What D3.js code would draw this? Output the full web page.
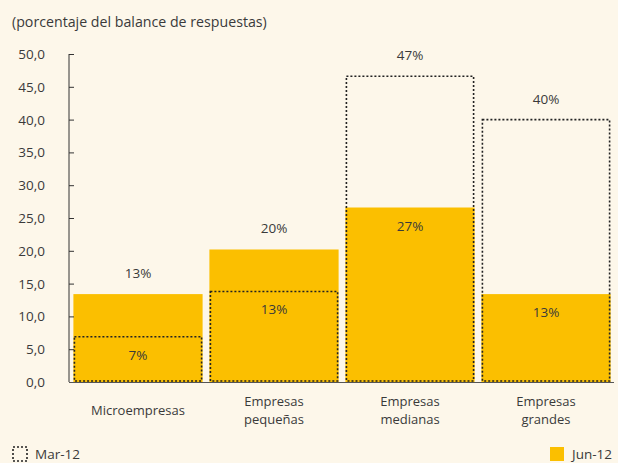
<!DOCTYPE html>
<html><head><meta charset="utf-8">
<script src="https://cdn.jsdelivr.net/npm/d3@7"></script>
<style>body{margin:0;background:#fdf7ea;}svg{display:block;font-family:"Open Sans","Noto Sans",sans-serif;}</style>
</head><body><svg id="c" width="618" height="463"></svg>
<script>
const categories = [["Microempresas"],["Empresas","pequeñas"],["Empresas","medianas"],["Empresas","grandes"]];
const jun12 = [13.4, 20.2, 26.6, 13.4];
const mar12 = [6.9, 13.8, 46.6, 40.0];
const junLabels = ["13%","20%","27%","13%"];
const marLabels = ["7%","13%","47%","40%"];
const junLabelInside = [false,false,true,true];
const marLabelInside = [true,true,false,false];
const yTicks = [0,5,10,15,20,25,30,35,40,45,50];

const FS = 13.5, TXT = "#3a3a3a";
const svg = d3.select("#c");
svg.append("rect").attr("width",618).attr("height",463).attr("fill","#fdf7ea");
const x = d3.scaleBand().domain(d3.range(4)).range([70,614]).paddingInner(0.05).paddingOuter(0.025);
const y = d3.scaleLinear().domain([0,50]).range([382,54]);
const fmt = d => d.toFixed(1).replace(".",",");

svg.append("text").attr("x",12).attr("y",27).attr("font-size",14.2).attr("fill",TXT)
  .text("(porcentaje del balance de respuestas)");

// bars
svg.selectAll(".jun").data(jun12).join("rect")
  .attr("x",(d,i)=>x(i)).attr("width",x.bandwidth())
  .attr("y",d=>y(d)).attr("height",d=>y(0)-y(d)).attr("fill","#fbbf00");
svg.selectAll(".mar").data(mar12).join("rect")
  .attr("x",(d,i)=>x(i)+1).attr("width",x.bandwidth()-2)
  .attr("y",d=>y(d)).attr("height",d=>y(0)-y(d)-1)
  .attr("fill","none").attr("stroke","#222").attr("stroke-width",1.6).attr("stroke-dasharray","2,2");

// axes
const ya = svg.append("g").attr("transform","translate(69,0)")
  .call(d3.axisRight(y).tickValues(yTicks).tickSize(5).tickFormat(""));
ya.select(".domain").attr("stroke","#333").attr("d","M0,54V382");
ya.selectAll(".tick line").attr("stroke","#333");
svg.append("g").selectAll("text").data(yTicks).join("text")
  .attr("x",45).attr("y",d=>y(d)+5).attr("text-anchor","end").attr("font-size",FS).attr("fill",TXT).text(fmt);
svg.append("line").attr("x1",69).attr("x2",614).attr("y1",382.5).attr("y2",382.5).attr("stroke","#555").attr("stroke-width",1);

// value labels
const lab = (vals, labels, inside) => svg.append("g").selectAll("text").data(vals).join("text")
  .attr("x",(d,i)=>x(i)+x.bandwidth()/2)
  .attr("y",(d,i)=> inside[i] ? y(d)+23 : y(d)-16)
  .attr("text-anchor","middle").attr("font-size",FS).attr("fill",TXT).text((d,i)=>labels[i]);
lab(jun12, junLabels, junLabelInside);
lab(mar12, marLabels, marLabelInside);

// category labels
categories.forEach((c,i)=>{
  const y0 = c.length===1 ? 415 : 406;
  c.forEach((s,j)=>svg.append("text").attr("text-anchor","middle").attr("font-size",13).attr("fill",TXT)
    .attr("x",x(i)+x.bandwidth()/2).attr("y",y0+j*17.8).text(s));
});

// legend
svg.append("rect").attr("x",13).attr("y",447).attr("width",14).attr("height",14)
  .attr("fill","none").attr("stroke","#222").attr("stroke-width",1.6).attr("stroke-dasharray","2,2");
svg.append("text").attr("x",35).attr("y",459).attr("font-size",FS).attr("fill",TXT).text("Mar-12");
svg.append("rect").attr("x",550).attr("y",447).attr("width",14).attr("height",14).attr("fill","#fbbf00");
svg.append("text").attr("x",572).attr("y",459).attr("font-size",FS).attr("fill",TXT).text("Jun-12");
</script></body></html>
